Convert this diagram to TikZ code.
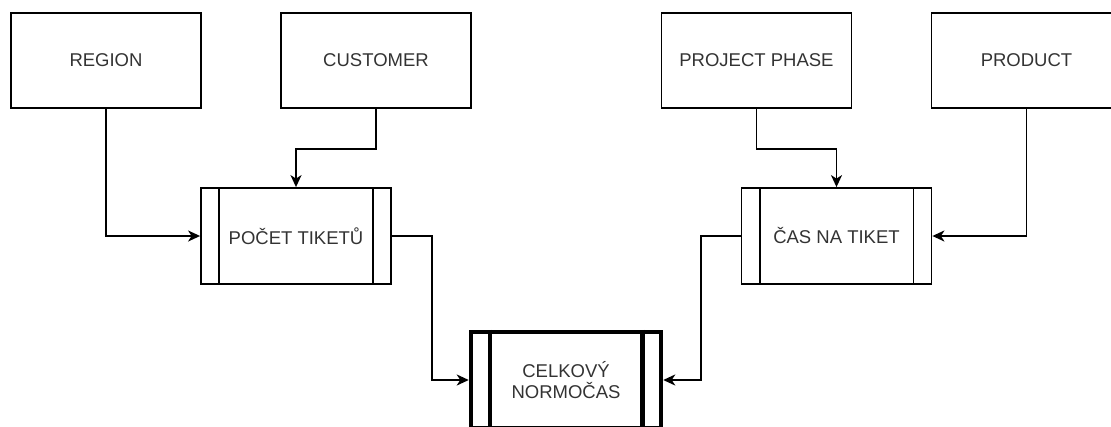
\documentclass[tikz,border=0pt]{standalone}
\usepackage{fontspec}
\setmainfont{Liberation Sans}
\usetikzlibrary{arrows.meta}
\begin{document}
\begin{tikzpicture}[x=1pt,y=-1pt,
  box/.style={draw=black, line width=1.8pt, minimum width=190pt, minimum height=95pt,
    inner sep=0pt, text=black!80, font=\fontsize{18.5}{21}\selectfont, align=center},
  procbox/.style={box, minimum height=96pt},
  mainbox/.style={box, line width=4.5pt, minimum height=96pt},
  arr/.style={draw=black, line width=1.8pt, -{Stealth[length=12pt,width=11pt,inset=3.5pt]}},
  inner/.style={draw=black, line width=1.8pt},
  innerthick/.style={draw=black, line width=4.5pt}]
\useasboundingbox (0,0) rectangle (1111,426);
\node[box] (region) at (106,60.5) {REGION};
\node[box] (customer) at (376,60.5) {CUSTOMER};
\node[box] (phase) at (756.5,60.5) {PROJECT PHASE};
\node[box] (product) at (1026.5,60.5) {PRODUCT};
\node[procbox] (pocet) at (296,236) {POČET TIKETŮ};
\node[procbox] (cas) at (836.5,236) {ČAS NA TIKET};
\node[mainbox] (celk) at (566,380) {CELKOVÝ\\NORMOČAS};
% inner vertical lines
\draw[inner] ([xshift=19pt]pocet.north west) -- ([xshift=19pt]pocet.south west);
\draw[inner] ([xshift=-19pt]pocet.north east) -- ([xshift=-19pt]pocet.south east);
\draw[inner] ([xshift=19pt]cas.north west) -- ([xshift=19pt]cas.south west);
\draw[inner] ([xshift=-19pt]cas.north east) -- ([xshift=-19pt]cas.south east);
\draw[innerthick] ([xshift=21pt]celk.north west) -- ([xshift=21pt]celk.south west);
\draw[innerthick] ([xshift=-21pt]celk.north east) -- ([xshift=-21pt]celk.south east);
% connectors
\draw[arr] (region.south) |- (pocet.west);
\draw[arr] (customer.south) -- ++(0,40) -| (pocet.north);
\draw[arr] (phase.south) -- ++(0,40) -| (cas.north);
\draw[arr] (product.south) |- (cas.east);
\draw[arr] (pocet.east) -- ++(40,0) |- (celk.west);
\draw[arr] (cas.west) -- ++(-40,0) |- (celk.east);
\end{tikzpicture}
\end{document}
